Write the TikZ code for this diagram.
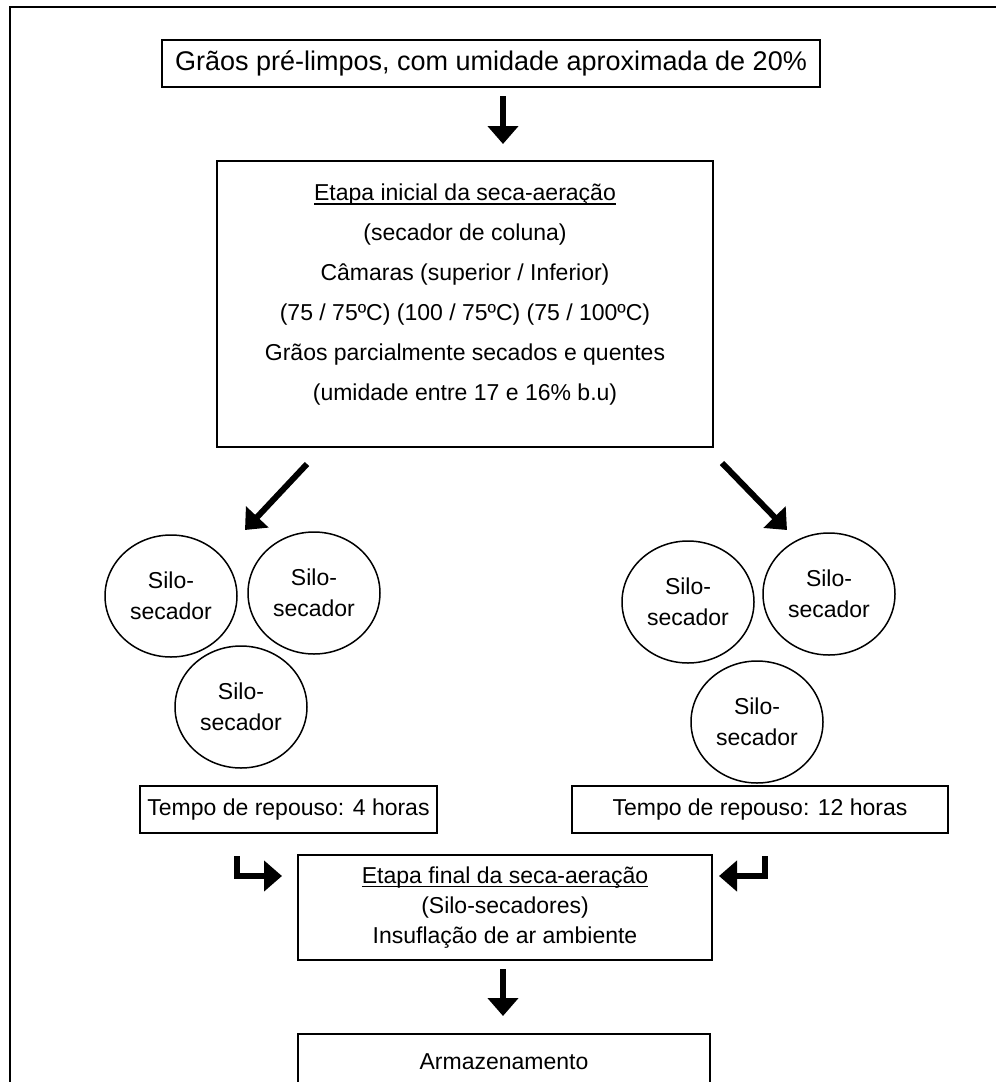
\documentclass[tikz,border=0pt]{standalone}
\usepackage{fontspec}
\setmainfont{Liberation Sans}
\usetikzlibrary{arrows.meta,shapes.geometric,calc}
% underline at a fixed depth below the baseline
\newcommand\ulined[1]{\setbox0\hbox{#1}\rlap{\rule[-4pt]{\wd0}{1.5pt}}\box0}
\begin{document}
\begin{tikzpicture}[x=1pt,y=-1pt,
  box/.style={draw,line width=2pt,inner sep=0pt,align=center,font=\fontsize{23}{30}\selectfont},
  silo/.style={ellipse,draw,line width=1.5pt,minimum width=132pt,minimum height=122pt,
    inner sep=0pt,align=center,font=\fontsize{23}{31}\selectfont},
  flow/.style={line width=6pt,-{Triangle[length=18pt,width=30pt]}},
]
\clip (0,0) rectangle (996,1082);
\draw[line width=2pt] (10,7) rectangle (1010,1100);

\node[box,minimum width=658pt,minimum height=47pt,font=\fontsize{27}{30}\selectfont] (top) at (491,63.5)
  {Grãos pré-limpos, com umidade aproximada de 20\%};

\node[box,minimum width=496pt,minimum height=286pt,
  label={[font=\fontsize{23}{40}\selectfont,align=center,yshift=9pt]center:{%
    \ulined{Etapa inicial da seca-aeração}\\(secador de coluna)\\Câmaras (superior / Inferior)\\
    (75 / 75ºC) (100 / 75ºC) (75 / 100ºC)\\Grãos parcialmente secados e quentes\\
    (umidade entre 17 e 16\% b.u)}}] (big) at (465,304) {};

% silo-dryers, left group
\node[silo] (l1) at (171,596) {Silo-\\secador};
\node[silo] (l2) at (314,593) {Silo-\\secador};
\node[silo] (l3) at (241,707) {Silo-\\secador};
% silo-dryers, right group
\node[silo] (r1) at (688,602) {Silo-\\secador};
\node[silo] (r2) at (829,594) {Silo-\\secador};
\node[silo] (r3) at (757,722) {Silo-\\secador};

\node[box,minimum width=297pt,minimum height=47pt] (t4) at (288.5,809.5) {Tempo de repouso: 4 horas};
\node[box,minimum width=376pt,minimum height=47pt] (t12) at (760,809.5) {Tempo de repouso: 12 horas};

\node[box,minimum width=414pt,minimum height=105pt] (fin) at (505,907.5)
  {\ulined{Etapa final da seca-aeração}\\(Silo-secadores)\\Insuflação de ar ambiente};

\node[box,minimum width=412pt,minimum height=56pt] (arm) at (504,1062) {Armazenamento};

% flow arrows
\draw[flow] ($(top.south)+(12,8)$) -- ($(big.north)+(38,-16)$);
\draw[flow] ($(big.south)+(-158,16)$) -- ($(l1)+(74,-66)$);
\draw[flow] ($(big.south)+(257,15)$) -- ($(r1)+(99,-72)$);
\draw[flow] ($(t4.south)+(-52,22)$) |- ($(fin.west)+(-15,-31.5)$);
\draw[flow] ($(t12.south)+(4.5,22)$) |- ($(fin.east)+(6,-31.5)$);
\draw[flow] ($(fin.south)+(-2,8)$) -- ($(arm.north)+(-1,-17)$);
\end{tikzpicture}
\end{document}
